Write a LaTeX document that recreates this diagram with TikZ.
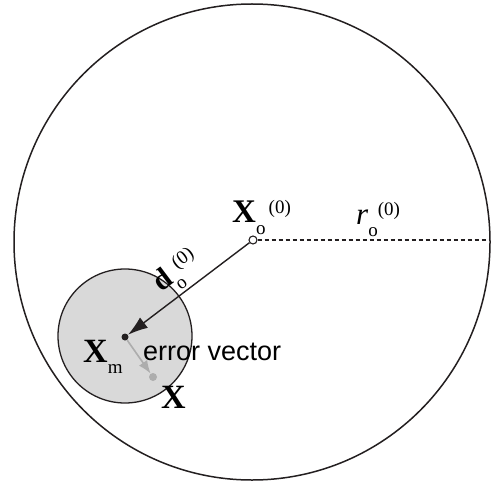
\documentclass[tikz,border=0pt]{standalone}
\usepackage{fontspec}
\setmainfont{Liberation Serif}
\setsansfont{Liberation Sans}
\usetikzlibrary{arrows.meta, calc}
\definecolor{ink}{HTML}{231F20}
\definecolor{regionfill}{HTML}{D9D9D9}
\definecolor{errgray}{HTML}{ADADAD}

\newcommand{\fsz}[1]{\fontsize{#1}{#1}\selectfont}

\begin{document}
\begin{tikzpicture}[x=1pt, y=-1pt,
  bound/.style={draw=ink, line width=1.5pt},
  region/.style={draw=ink, line width=1.3pt, fill=regionfill},
  ctrpt/.style={circle, draw=ink, fill=white, line width=1.1pt, inner sep=0pt, minimum size=8pt},
  estpt/.style={circle, fill=ink, inner sep=0pt, minimum size=7pt},
  truept/.style={circle, fill=errgray, inner sep=0pt, minimum size=8pt},
  offset/.style={-{Latex[length=20pt, width=13pt]}, draw=ink, line width=1.4pt},
  errvec/.style={-{Latex[length=13pt, width=10pt]}, draw=errgray, line width=1.6pt},
  radline/.style={draw=ink, dash pattern=on 4pt off 3pt, line width=1.2pt},
  lbl/.style={inner sep=0pt, anchor=base west}
]
  \useasboundingbox (0,0) rectangle (492,484);

  % --- outer search circle and the grey region round the estimate ---
  \draw[bound] (252,242) circle[radius=238];
  \draw[region] (125,336) circle[radius=67];

  % --- points ---
  \node[ctrpt] (xo) at (253,240) {};
  \node[estpt] (xm) at (125,337) {};
  \node[truept] (xt) at (153,377) {};
  \coordinate (rim) at (490,240);

  % --- connectors ---
  \draw[radline] (xo) -- (rim);
  \draw[offset] (xo) -- (xm);
  \draw[errvec] (xm) -- (xt);

  % --- labels ---
  \node[lbl] (xolbl) at (232,222)
    {{\fsz{33}\bfseries X}\raisebox{-12pt}{\fsz{19}o}\raisebox{9pt}{\fsz{19}\,(0)}};
  \node[lbl] (rlbl) at (356,224)
    {{\fsz{31}\itshape r}\raisebox{-12pt}{\fsz{19}o}\raisebox{9pt}{\fsz{19}(0)}};
  \node[rotate=37, anchor=south, inner sep=3pt] (dlbl) at ($(xo)!0.5!(xm)$)
    {{\fsz{30}\bfseries d}\raisebox{-10pt}{\fsz{19}o}\raisebox{9pt}{\fsz{19}(0)}};
  \node[lbl] (xmlbl) at (83,362) {{\fsz{34}\bfseries X}\raisebox{-11pt}{\fsz{19}m}};
  \node[lbl, font=\sffamily] (errlbl) at (143,360) {\fsz{27}error vector};
  \node[lbl] (xlbl) at (161,408) {\fsz{34}\bfseries X};

\end{tikzpicture}
\end{document}
